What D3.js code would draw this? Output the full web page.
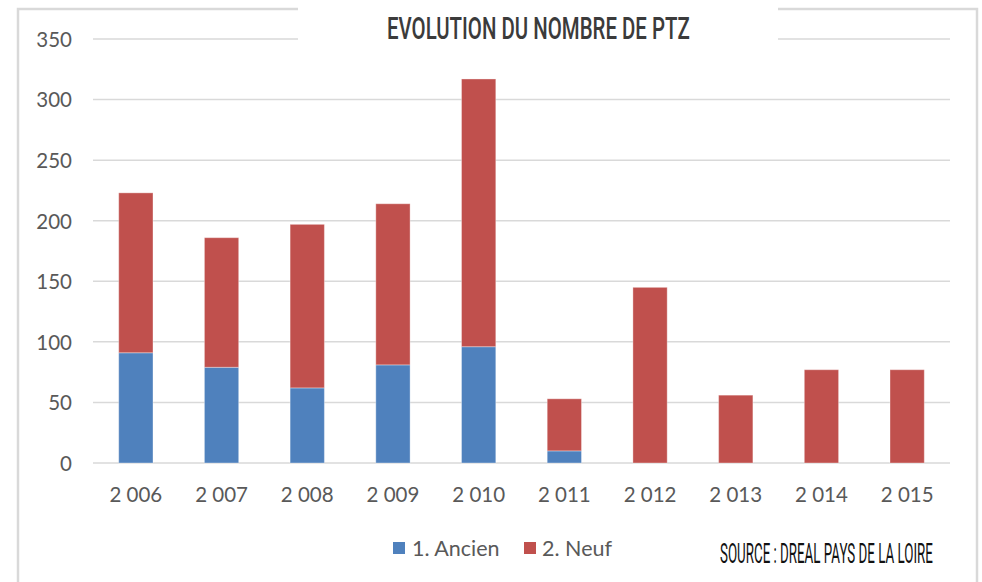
<!DOCTYPE html>
<html>
<head>
<meta charset="utf-8">
<script src="https://cdn.jsdelivr.net/npm/d3@7"></script>
<style>
  html, body { margin: 0; padding: 0; background: #fff; }
  svg { display: block; }
</style>
</head>
<body>
<svg id="chart" width="982" height="582"></svg>
<script>
// PTZ counts per year, split into existing (Ancien) and new-build (Neuf) housing
const years = ["2 006", "2 007", "2 008", "2 009", "2 010", "2 011", "2 012", "2 013", "2 014", "2 015"];
const ancien = [91, 79, 62, 81, 96, 10, 0, 0, 0, 0];
const neuf = [132, 107, 135, 133, 221, 43, 145, 56, 77, 77];
const seriesNames = ["1. Ancien", "2. Neuf"];
const seriesColors = ["#4F81BD", "#C0504D"];
const yTicks = [0, 50, 100, 150, 200, 250, 300, 350];

const svg = d3.select("#chart");
const W = 982, H = 582;

// outer frame (open at the bottom)
svg.append("path")
  .attr("d", `M18,${H + 5} L18,9 L977,9 L977,${H + 5}`)
  .attr("fill", "none").attr("stroke", "#d9d9d9").attr("stroke-width", 2.5);

const x = d3.scaleBand().domain(years).range([93, 950]).paddingInner(0.6).paddingOuter(0.3);
const y = d3.scaleLinear().domain([0, 350]).range([463, 39]);

// gridlines
svg.append("g").selectAll("line").data(yTicks).join("line")
  .attr("x1", 93).attr("x2", 950)
  .attr("y1", d => y(d)).attr("y2", d => y(d))
  .attr("stroke", "#d9d9d9").attr("stroke-width", 1.5);

const labelFont = "Lato, 'Open Sans', sans-serif";

// y axis labels
const yAxis = d3.axisLeft(y).tickValues(yTicks).tickSize(0).tickPadding(0).tickFormat(d3.format("d"));
svg.append("g").attr("transform", "translate(72,0)").call(yAxis)
  .call(g => g.select(".domain").remove())
  .selectAll("text")
  .attr("fill", "#595959").attr("font-family", labelFont).attr("font-size", 20.5)
  .attr("dy", "0.36em");

// x axis labels
const xAxis = d3.axisBottom(x).tickSize(0).tickPadding(0);
svg.append("g").attr("transform", "translate(0,487)").call(xAxis)
  .call(g => g.select(".domain").remove())
  .selectAll("text")
  .attr("fill", "#595959").attr("font-family", labelFont).attr("font-size", 20.5)
  .attr("dy", "0.71em");

// stacked bars
const rows = years.map((yr, i) => ({ year: yr, ancien: ancien[i], neuf: neuf[i] }));
const stack = d3.stack().keys(["ancien", "neuf"])(rows);
svg.append("g").selectAll("g").data(stack).join("g")
  .attr("fill", (d, i) => seriesColors[i])
  .selectAll("rect").data(d => d.filter(s => s[1] - s[0] > 0)).join("rect")
  .attr("x", d => x(d.data.year))
  .attr("width", x.bandwidth())
  .attr("y", d => y(d[1]))
  .attr("height", d => y(d[0]) - y(d[1]))
  .attr("stroke", "rgba(255,255,255,0.35)").attr("stroke-width", 1);

// title panel over the frame
svg.append("rect").attr("x", 298).attr("y", 0).attr("width", 480).attr("height", 46).attr("fill", "#fff");

// condensed caps text: squeeze a regular face horizontally to a target width
function condensed(txt, left, baseline, size, width, color, weight) {
  const t = svg.append("text")
    .attr("font-family", "Roboto, 'DejaVu Sans', sans-serif")
    .attr("font-size", size).attr("font-weight", weight)
    .attr("fill", color).text(txt);
  const len = t.node().getComputedTextLength();
  const k = width / len;
  t.attr("transform", `translate(${left},${baseline}) scale(${k},1)`);
  return t;
}
condensed("EVOLUTION DU NOMBRE DE PTZ", 387, 38.5, 32, 303, "#3b3b3b", 500);

// legend
const lg = svg.append("g");
const legendItems = [
  { name: seriesNames[0], color: seriesColors[0], sx: 393, tx: 412 },
  { name: seriesNames[1], color: seriesColors[1], sx: 524, tx: 542 }
];
legendItems.forEach(it => {
  lg.append("rect").attr("x", it.sx).attr("y", 542).attr("width", 12).attr("height", 12).attr("fill", it.color);
  lg.append("text").attr("x", it.tx).attr("y", 556)
    .attr("font-family", labelFont).attr("font-size", 21.5).attr("fill", "#595959").text(it.name);
});

// source note
condensed("SOURCE : DREAL PAYS DE LA LOIRE", 720, 563, 27, 213, "#111", 400);
</script>
</body>
</html>
